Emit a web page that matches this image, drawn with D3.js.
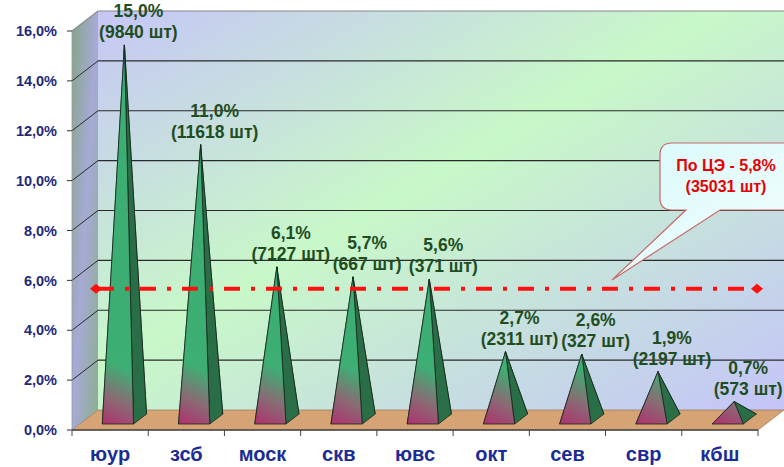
<!DOCTYPE html>
<html>
<head>
  <meta charset="utf-8">
  <title>Доля по дорогам</title>
  <script src="https://cdn.jsdelivr.net/npm/d3@7"></script>
  <style>
    body { margin: 0; background: #fff; }
    svg { display: block; font-family: Arial, "Liberation Sans", sans-serif; }
  </style>
</head>
<body>
<script>
// данные
const roads = ["юур", "зсб", "моск", "скв", "ювс", "окт", "сев", "свр", "кбш"];
const shares = [15.0, 11.0, 6.1, 5.7, 5.6, 2.7, 2.6, 1.9, 0.7];
const counts = [9840, 11618, 7127, 667, 371, 2311, 327, 2197, 573];
const yTicks = [0, 2, 4, 6, 8, 10, 12, 14, 16];
const avgShare = 5.8;
const avgCount = 35031;

const w = 784, h = 467;
const depthX = 26, depthY = 20; // глубина 3D

const fmt = v => d3.format(".1f")(v).replace(".", ",") + "%";

const x = d3.scaleBand().domain(roads).range([72, 758]).padding(0);
const y = d3.scaleLinear().domain([0, 16]).range([430, 31]);

const svg = d3.select("body").append("svg")
  .attr("width", w).attr("height", h);

const defs = svg.append("defs");

// фон стены
const wallGrad = defs.append("linearGradient").attr("id", "wall")
  .attr("x1", 0).attr("y1", 0).attr("x2", 1).attr("y2", 1);
wallGrad.append("stop").attr("offset", 0).attr("stop-color", "#c6c6f6");
wallGrad.append("stop").attr("offset", 0.45).attr("stop-color", "#c8f8c8");
wallGrad.append("stop").attr("offset", 1).attr("stop-color", "#c4c4f8");

const sideGrad = defs.append("linearGradient").attr("id", "side")
  .attr("x1", 0).attr("y1", 0).attr("x2", 1).attr("y2", 1);
sideGrad.append("stop").attr("offset", 0).attr("stop-color", "#84a684");
sideGrad.append("stop").attr("offset", 0.5).attr("stop-color", "#a6aad6");
sideGrad.append("stop").attr("offset", 1).attr("stop-color", "#8cae8e");

const calloutGrad = defs.append("linearGradient").attr("id", "callout")
  .attr("x1", 0).attr("y1", 0).attr("x2", 1).attr("y2", 1);
calloutGrad.append("stop").attr("offset", 0).attr("stop-color", "#d8fafa");
calloutGrad.append("stop").attr("offset", 1).attr("stop-color", "#f4fcfc");

const x0 = x.range()[0], x1 = x.range()[1];
const yTop = y(16), yBot = y(0);

// боковая стена
svg.append("path")
  .attr("d", `M${x0},${yTop}L${x0 + depthX},${yTop - depthY}L${x0 + depthX},${yBot - depthY}L${x0},${yBot}Z`)
  .attr("fill", "url(#side)");

// задняя стена
svg.append("rect")
  .attr("x", x0 + depthX).attr("y", yTop - depthY)
  .attr("width", w - (x0 + depthX)).attr("height", yBot - yTop)
  .attr("fill", "url(#wall)");

// пол
svg.append("path")
  .attr("d", `M${x0},${yBot}L${x1},${yBot}L${x1 + depthX},${yBot - depthY}L${x0 + depthX},${yBot - depthY}Z`)
  .attr("fill", "#d6a474")
  .attr("stroke", "#8a6a4a").attr("stroke-width", 0.6);

// сетка
const grid = svg.append("g");
yTicks.filter(v => v > 0 && v < 16).forEach(v => {
  grid.append("line")
    .attr("x1", x0).attr("y1", y(v))
    .attr("x2", x0 + depthX).attr("y2", y(v) - depthY)
    .attr("stroke", "#2a2a2a").attr("stroke-width", 1);
  grid.append("line")
    .attr("x1", x0 + depthX).attr("y1", y(v) - depthY)
    .attr("x2", w).attr("y2", y(v) - depthY)
    .attr("stroke", "#2a2a2a").attr("stroke-width", 1.2);
});
// верхний край стен
grid.append("path")
  .attr("d", `M${x0},${yTop}L${x0 + depthX},${yTop - depthY}L${w},${yTop - depthY}`)
  .attr("fill", "none").attr("stroke", "#888").attr("stroke-width", 1.2);
grid.append("line")
  .attr("x1", x0).attr("y1", yTop).attr("x2", x0).attr("y2", yBot)
  .attr("stroke", "#9a9a9a").attr("stroke-width", 0.8);

// ось Y
const yAxis = svg.append("g");
yTicks.forEach(v => {
  yAxis.append("line")
    .attr("x1", x0 - 5).attr("x2", x0)
    .attr("y1", y(v)).attr("y2", y(v))
    .attr("stroke", "#333");
  yAxis.append("text")
    .attr("x", 57).attr("y", y(v)).attr("dy", "0.36em")
    .attr("text-anchor", "end")
    .attr("font-size", 14.5).attr("font-weight", "bold")
    .attr("fill", "#22287a")
    .text(fmt(v));
});

// ось X
const xAxis = svg.append("g");
xAxis.append("line")
  .attr("x1", x0).attr("x2", x1).attr("y1", yBot).attr("y2", yBot)
  .attr("stroke", "#444").attr("stroke-width", 1.5);
roads.forEach(r => {
  xAxis.append("line")
    .attr("x1", x(r)).attr("x2", x(r)).attr("y1", yBot).attr("y2", yBot + 6)
    .attr("stroke", "#444");
});
xAxis.append("line")
  .attr("x1", x1).attr("x2", x1).attr("y1", yBot).attr("y2", yBot + 6)
  .attr("stroke", "#444");
xAxis.selectAll("text").data(roads).enter().append("text")
  .attr("x", d => x(d) + x.bandwidth() / 2)
  .attr("y", 461)
  .attr("text-anchor", "middle")
  .attr("font-size", 20).attr("font-weight", "bold")
  .attr("fill", "#1c2c96")
  .text(d => d);

// пирамиды
const zFront = 0.3, zBack = 0.8, zMid = 0.55;
const halfW = x.bandwidth() * 0.205;
const P = (px, z, v) => [px + depthX * z, y(v) - depthY * z];
const pyr = svg.append("g");

roads.forEach((r, i) => {
  const c = x(r) + x.bandwidth() / 2;
  const fl = P(c - halfW, zFront, 0), fr = P(c + halfW, zFront, 0);
  const bl = P(c - halfW, zBack, 0), br = P(c + halfW, zBack, 0);
  const ap = P(c, zMid, shares[i]);
  const g = pyr.append("g")
    .attr("stroke", "#16261a").attr("stroke-width", 0.8).attr("stroke-linejoin", "round");

  const gr = defs.append("linearGradient").attr("id", "pf" + i)
    .attr("gradientUnits", "userSpaceOnUse")
    .attr("x1", fl[0]).attr("y1", fl[1])
    .attr("x2", fr[0] + 4).attr("y2", fl[1] - 70);
  gr.append("stop").attr("offset", 0).attr("stop-color", "#b0306e");
  gr.append("stop").attr("offset", 0.35).attr("stop-color", "#8a6a74");
  gr.append("stop").attr("offset", 0.75).attr("stop-color", "#3eae74");
  gr.append("stop").attr("offset", 1).attr("stop-color", "#3cae74");

  const poly = pts => "M" + pts.map(p => p.join(",")).join("L") + "Z";
  g.append("path").attr("d", poly([bl, br, ap])).attr("fill", "#2f7a50");
  g.append("path").attr("d", poly([fl, bl, ap])).attr("fill", "#45a877");
  g.append("path").attr("d", poly([fr, br, ap])).attr("fill", "#2a6e48");
  g.append("path").attr("d", poly([fl, fr, ap])).attr("fill", `url(#pf${i})`);
});

// подписи значений
const labels = svg.append("g")
  .attr("font-size", 17.5).attr("font-weight", "bold")
  .attr("fill", "#1f4d22").attr("text-anchor", "middle");
roads.forEach((r, i) => {
  const ap = P(x(r) + x.bandwidth() / 2, zMid, shares[i]);
  const lx = ap[0] + 14;
  labels.append("text").attr("x", lx).attr("y", ap[1] - 28).text(fmt(shares[i]));
  labels.append("text").attr("x", lx).attr("y", ap[1] - 7).text(`(${counts[i]} шт)`);
});

// средняя линия
const avgY = y(avgShare) + 3.5;
const avg = svg.append("g");
avg.append("line")
  .attr("x1", 98).attr("x2", 752).attr("y1", avgY).attr("y2", avgY)
  .attr("stroke", "#ff1010").attr("stroke-width", 4)
  .attr("stroke-dasharray", "16,11,4,11");
[96, 757].forEach(cx => {
  avg.append("path")
    .attr("d", `M${cx - 6},${avgY}L${cx},${avgY - 5}L${cx + 6},${avgY}L${cx},${avgY + 5}Z`)
    .attr("fill", "#ff1010");
});

// выноска
const co = svg.append("g");
co.append("path")
  .attr("d", "M672,143H790V210H720L612,280L686,210H672Q660,210 660,198V155Q660,143 672,143Z")
  .attr("fill", "url(#callout)")
  .attr("stroke", "#c86a6a").attr("stroke-width", 1.2);
co.append("text")
  .attr("x", 726).attr("y", 171).attr("text-anchor", "middle")
  .attr("font-size", 16).attr("font-weight", "bold").attr("fill", "#e80000")
  .text("По ЦЭ - " + fmt(avgShare));
co.append("text")
  .attr("x", 726).attr("y", 192).attr("text-anchor", "middle")
  .attr("font-size", 16).attr("font-weight", "bold").attr("fill", "#e80000")
  .text(`(${avgCount} шт)`);
</script>
</body>
</html>
